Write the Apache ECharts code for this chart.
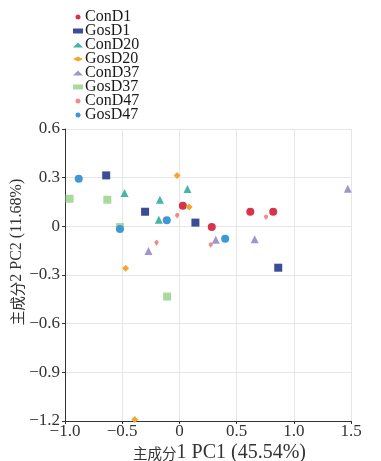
<!DOCTYPE html>
<html><head><meta charset="utf-8">
<script src="https://cdn.jsdelivr.net/npm/echarts@6/dist/echarts.min.js"></script>
<style>html,body{margin:0;padding:0;background:#fff}#c{width:381px;height:461px}</style>
</head><body><div id="c"></div>
<script>
var seriesNames = ['ConD1','GosD1','ConD20','GosD20','ConD37','GosD37','ConD47','GosD47'];
var colors = ['#d7334a','#3b4d96','#44b5a6','#f1a731','#9f95cf','#a9d99d','#ec8c8c','#3e98d8'];
var symbols = ['circle','rect','triangle','diamond','triangle','rect','pin','circle'];
var sizes = [8,8,8,7,8,8,7,8];
var ConD1 = [[0.03,0.127],[0.62,0.09],[0.82,0.09],[0.283,-0.004]];
var GosD1 = [[-0.64,0.314],[-0.30,0.09],[0.14,0.023],[0.864,-0.255]];
var ConD20 = [[-0.48,0.205],[0.07,0.23],[-0.17,0.164],[-0.18,0.041]];
var GosD20 = [[-0.02,0.314],[0.085,0.119],[-0.47,-0.258],[-0.39,-1.19]];
var ConD37 = [[-0.27,-0.152],[0.318,-0.082],[0.658,-0.08],[1.472,0.232]];
var GosD37 = [[-0.96,0.17],[-0.63,0.164],[-0.52,-0.004],[-0.107,-0.433]];
var ConD47 = [[-0.02,0.045],[-0.20,-0.123],[0.757,0.035],[0.274,-0.136]];
var GosD47 = [[-0.88,0.294],[-0.11,0.037],[-0.52,-0.016],[0.40,-0.076]];
var allData = [ConD1,GosD1,ConD20,GosD20,ConD37,GosD37,ConD47,GosD47];
var xTicks = {min:-1.0, max:1.5, interval:0.5};
var yTicks = {min:-1.2, max:0.6, interval:0.3};
var xNameCJK = '主成分', xNameLatin = '1 PC1 (45.54%)';
var yNameCJK = '主成分', yNameLatin = '2 PC2 (11.68%)';
var SERIF = "'Liberation Serif','DejaVu Serif',serif";
var CJK = "'Noto Sans CJK SC','Liberation Serif',serif";
function fmt(v){ if (Math.abs(v) < 1e-9) return '0'; return v.toFixed(1).replace('-', '\u2212'); }
var chart = echarts.init(document.getElementById('c'), null, {renderer:'canvas'});
var series = seriesNames.map(function(n,i){
  return {name:n, type:'scatter', data:allData[i], symbol:symbols[i], symbolSize:sizes[i],
    itemStyle:{color:colors[i], opacity:1}, emphasis:{disabled:true}};
});
chart.setOption({
  animation:false,
  color: colors,
  legend:{
    orient:'vertical', left:73, top:9, padding:0, itemWidth:10, itemHeight:5, itemGap:-2,
    data: seriesNames.map(function(n,i){ return {name:n, icon: symbols[i]==='pin' ? 'circle' : symbols[i]}; }),
    textStyle:{fontFamily:SERIF, fontSize:16, color:'#1a1a1a', padding:[0,0,0,-3]}
  },
  grid:{left:65, right:30, top:129, bottom:40, containLabel:false, outerBoundsMode:'none'},
  xAxis:{
    type:'value', min:xTicks.min, max:xTicks.max, interval:xTicks.interval,
    name:'{c|' + xNameCJK + '}{l|' + xNameLatin + '}', nameLocation:'middle', nameGap:22, nameMoveOverlap:false,
    nameTextStyle:{color:'#333', padding:[0,0,0,23],
      rich:{c:{fontFamily:CJK, fontSize:14.5, color:'#333'}, l:{fontFamily:SERIF, fontSize:20, color:'#333'}}},
    axisLine:{show:true, onZero:false, lineStyle:{color:'#333', width:1}},
    axisTick:{show:true, length:3, lineStyle:{color:'#333'}},
    axisLabel:{formatter:fmt, fontFamily:SERIF, fontSize:17, color:'#333', margin:2},
    splitLine:{show:true, lineStyle:{color:'#e6e6e6', width:1}}
  },
  yAxis:{
    type:'value', min:yTicks.min, max:yTicks.max, interval:yTicks.interval,
    name:'{c|' + yNameCJK + '}{l|' + yNameLatin + '}', nameLocation:'middle', nameGap:40, nameMoveOverlap:false,
    nameTextStyle:{color:'#333', padding:[0,0,0,46],
      rich:{c:{fontFamily:CJK, fontSize:14.5, color:'#333'}, l:{fontFamily:SERIF, fontSize:16, color:'#333'}}},
    axisLine:{show:true, onZero:false, lineStyle:{color:'#333', width:1}},
    axisTick:{show:true, length:3, lineStyle:{color:'#333'}},
    axisLabel:{formatter:fmt, fontFamily:SERIF, fontSize:17, color:'#333', margin:5},
    splitLine:{show:true, lineStyle:{color:'#e6e6e6', width:1}}
  },
  series: series
});
</script></body></html>
